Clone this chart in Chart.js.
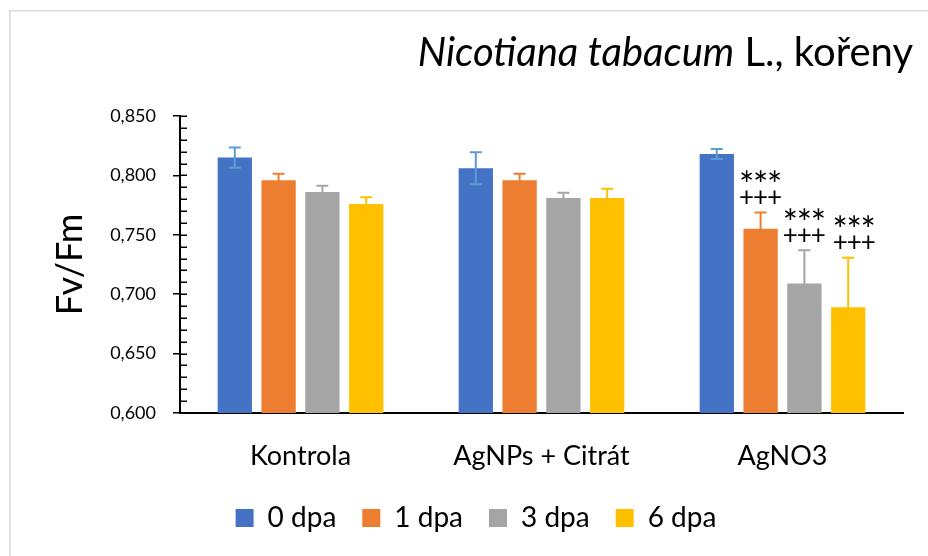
<!DOCTYPE html>
<html>
<head>
<meta charset="utf-8">
<script src="https://cdn.jsdelivr.net/npm/chart.js@4"></script>
<style>
  html, body { margin: 0; padding: 0; background: #ffffff; }
  #wrap { width: 928px; height: 556px; }
</style>
</head>
<body>
<div id="wrap"><canvas id="c" width="928" height="556"></canvas></div>
<script>
// ---- data ----
const categories = ["Kontrola", "AgNPs + Citrát", "AgNO3"];
const seriesLabels = ["0 dpa", "1 dpa", "3 dpa", "6 dpa"];
const values0 = [0.815, 0.806, 0.818];
const values1 = [0.796, 0.796, 0.755];
const values3 = [0.786, 0.781, 0.709];
const values6 = [0.776, 0.781, 0.689];
const errors0 = [0.0085, 0.0135, 0.0043];
const errors1 = [0.0054, 0.0054, 0.0138];
const errors3 = [0.0052, 0.0044, 0.028];
const errors6 = [0.0056, 0.0078, 0.0417];
const stars = [["", "", ""], ["", "", "***"], ["", "", "***"], ["", "", "***"]];
const pluses = [["", "", ""], ["", "", "+++"], ["", "", "+++"], ["", "", "+++"]];
const yTicks = [0.600, 0.650, 0.700, 0.750, 0.800, 0.850];
const titleItalic = "Nicotiana tabacum";
const titleRest = " L., kořeny";
const yTitle = "Fv/Fm";

const FONT = "Lato";
const barColors = ["#4472C4", "#ED7D31", "#A5A5A5", "#FFC000"];
const errColors = ["#5B9BD5", "#ED7D31", "#A5A5A5", "#FFC000"];
const allValues = [values0, values1, values3, values6];
const allErrors = [errors0, errors1, errors3, errors6];

const frame = {
  id: "frame",
  beforeDraw(chart) {
    const ctx = chart.ctx;
    ctx.save();
    ctx.fillStyle = "#ffffff";
    ctx.fillRect(0, 0, chart.width, chart.height);
    ctx.strokeStyle = "#d9d9d9";
    ctx.lineWidth = 1.5;
    ctx.strokeRect(9.75, 10.75, 1000, 1000);
    ctx.restore();
  },
  afterDraw(chart) {
    const ctx = chart.ctx;
    ctx.save();
    ctx.fillStyle = "#000000";
    ctx.textBaseline = "alphabetic";
    const fItal = "italic 40px " + FONT;
    const fNorm = "40px " + FONT;
    ctx.font = fNorm;
    const wRest = ctx.measureText(titleRest).width;
    ctx.font = fItal;
    const wItal = ctx.measureText(titleItalic).width;
    const right = 913;
    const base = 66;
    ctx.fillText(titleItalic, right - wRest - wItal, base);
    ctx.font = fNorm;
    ctx.fillText(titleRest, right - wRest, base);
    ctx.restore();
  }
};

const minorTicks = {
  id: "minorTicks",
  afterDraw(chart) {
    const y = chart.scales.y;
    const ctx = chart.ctx;
    const x0 = chart.chartArea.left;
    ctx.save();
    ctx.strokeStyle = "#000000";
    ctx.lineWidth = 1.5;
    ctx.beginPath();
    for (let k = 0; k <= 25; k++) {
      const v = y.min + k * 0.01;
      const py = Math.round(y.getPixelForValue(v)) + 0.25;
      ctx.moveTo(x0, py);
      ctx.lineTo(x0 + 7, py);
    }
    ctx.stroke();
    ctx.restore();
  }
};

const errorBars = {
  id: "errorBars",
  afterDatasetsDraw(chart) {
    const ctx = chart.ctx;
    const ys = chart.scales.y;
    ctx.save();
    allValues.forEach((vals, di) => {
      const meta = chart.getDatasetMeta(di);
      meta.data.forEach((bar, j) => {
        const v = vals[j], e = allErrors[di][j];
        const yt = ys.getPixelForValue(v + e);
        const yb = ys.getPixelForValue(v - e);
        ctx.strokeStyle = errColors[di];
        ctx.lineWidth = 2;
        ctx.beginPath();
        ctx.moveTo(bar.x, yt); ctx.lineTo(bar.x, yb);
        ctx.moveTo(bar.x - 6, yt); ctx.lineTo(bar.x + 6, yt);
        ctx.moveTo(bar.x - 6, yb); ctx.lineTo(bar.x + 6, yb);
        ctx.stroke();
        // significance marks
        const s = stars[di][j], p = pluses[di][j];
        ctx.fillStyle = "#000000";
        ctx.textAlign = "center";
        ctx.textBaseline = "middle";
        const dx = di === 3 ? 6 : 0;
        const drawSpaced = (str, cy) => {
          const n = str.length;
          for (let k = 0; k < n; k++) {
            ctx.fillText(str[k], bar.x + dx + (k - (n - 1) / 2) * 14, cy);
          }
        };
        ctx.font = "26px " + FONT;
        if (p) drawSpaced(p, yt - 15);
        ctx.font = "36px " + FONT;
        if (s) drawSpaced(s, yt - 26);
      });
    });
    ctx.restore();
  }
};

const datasets = allValues.map((vals, i) => ({
  label: seriesLabels[i],
  data: vals,
  backgroundColor: barColors[i],
  borderWidth: 0,
  categoryPercentage: 0.727,
  barPercentage: 0.783
}));

new Chart(document.getElementById("c"), {
  type: "bar",
  data: { labels: categories, datasets },
  options: {
    responsive: false,
    animation: false,
    layout: { padding: { top: 116, left: 49, right: 25, bottom: 14 } },
    plugins: {
      legend: {
        position: "bottom",
        labels: {
          font: { family: FONT, size: 28 },
          color: "#000000",
          boxWidth: 18,
          boxHeight: 18,
          padding: 26
        }
      },
      tooltip: { enabled: false },
      title: { display: false }
    },
    scales: {
      x: {
        afterFit(scale) { scale.height = 65; },
        grid: { display: false, drawTicks: false },
        border: { display: true, color: "#000000", width: 2 },
        ticks: { font: { family: FONT, size: 27 }, color: "#000000", padding: 27 }
      },
      y: {
        min: 0.6,
        max: 0.85,
        afterFit(scale) { scale.width = 131; },
        afterBuildTicks(scale) { scale.ticks = yTicks.map(v => ({ value: v })); },
        grid: { drawOnChartArea: false, drawTicks: true, tickLength: 7, color: "#000000", lineWidth: 1.5 },
        border: { display: true, color: "#000000", width: 2 },
        ticks: {
          font: { family: FONT, size: 18 },
          color: "#000000",
          padding: 17,
          callback: (v) => Number(v).toFixed(3).replace(".", ",")
        },
        title: {
          display: true,
          text: yTitle,
          font: { family: FONT, size: 36 },
          color: "#000000",
          padding: { top: 0, bottom: 0 }
        }
      }
    }
  },
  plugins: [frame, minorTicks, errorBars]
});
</script>
</body>
</html>
